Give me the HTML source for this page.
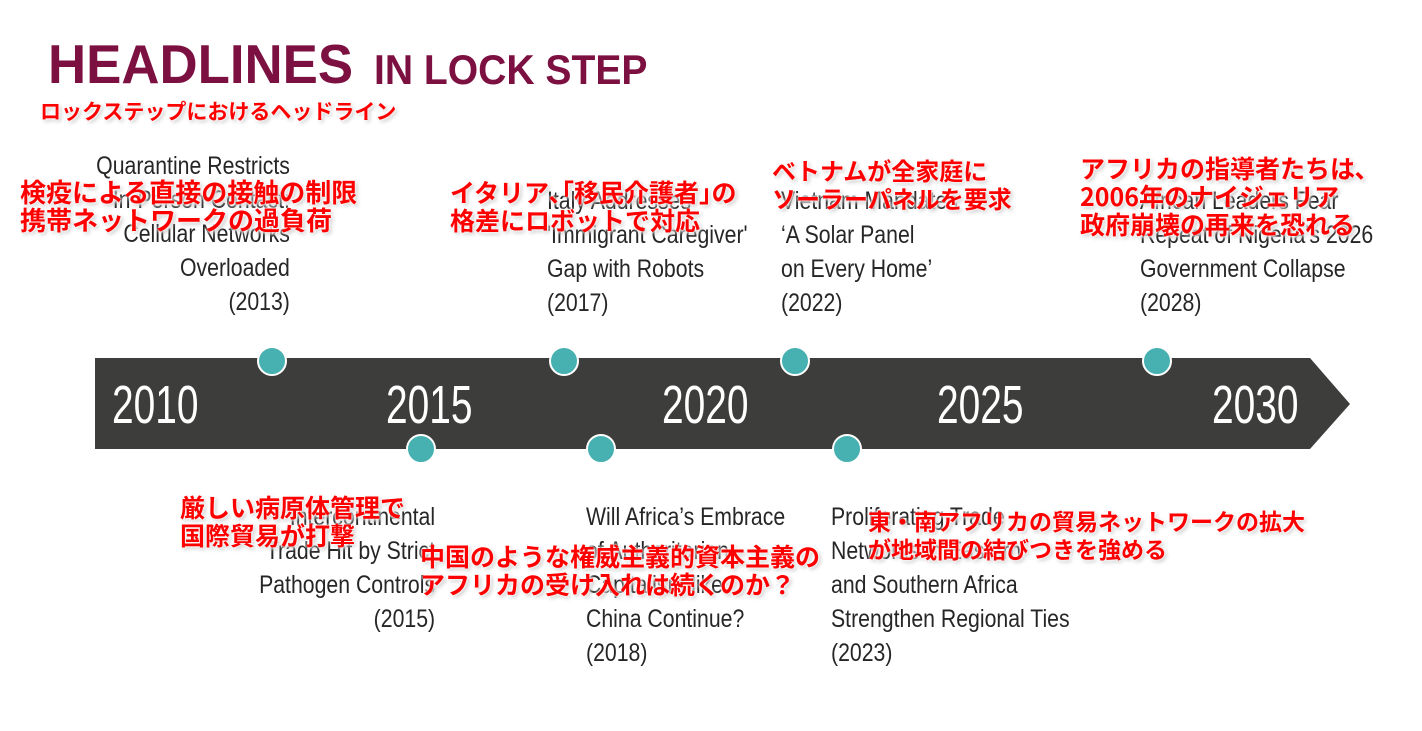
<!DOCTYPE html>
<html><head><meta charset="utf-8"><style>
body{margin:0;width:1422px;height:731px;background:#fff;position:relative;overflow:hidden;font-family:"Liberation Sans","Noto Sans CJK JP",sans-serif}
.a{position:absolute;white-space:nowrap}
.t{font-size:25px;color:#262626;line-height:34px;transform:scaleX(0.85)}
.l{transform-origin:0 0}.r{transform-origin:100% 0;text-align:right}
.yr{position:absolute;top:375px;color:#fff;font-size:54px;transform:scaleX(0.72);transform-origin:0 0;line-height:60px}
.jp{position:absolute;white-space:nowrap;color:#f00;font-size:26px;font-weight:bold;line-height:28px;font-family:"Noto Sans CJK JP",sans-serif;text-shadow:0 0 3px #fff,0 0 3px #fff,2px 2px 4px #bbb}
.dot{position:absolute;width:26px;height:26px;border-radius:50%;background:#47b0b0;border:2px solid #fff;margin:-15px 0 0 -15px}
</style></head><body>
<div class="a" style="left:48px;top:34px;color:#7c1040;font-weight:bold;transform:scaleX(0.96);transform-origin:0 0;line-height:60px;font-size:55px">HEADLINES</div>
<div class="a" style="left:374px;top:40px;color:#7c1040;font-weight:bold;transform:scaleX(0.93);transform-origin:0 0;line-height:60px;font-size:42px">IN LOCK STEP</div>
<div class="jp" style="left:40px;top:97px;font-size:21px">ロックステップにおけるヘッドライン</div>

<svg class="a" style="left:0;top:0" width="1422" height="731"><polygon points="95,358 1310,358 1350,404 1310,449 95,449" fill="#3d3d3c"/></svg>
<div class="yr" style="left:112px">2010</div>
<div class="yr" style="left:386px">2015</div>
<div class="yr" style="left:662px">2020</div>
<div class="yr" style="left:937px">2025</div>
<div class="yr" style="left:1212px">2030</div>

<div class="dot" style="left:272px;top:361px"></div>
<div class="dot" style="left:564px;top:361px"></div>
<div class="dot" style="left:795px;top:361px"></div>
<div class="dot" style="left:1157px;top:361px"></div>
<div class="dot" style="left:421px;top:449px"></div>
<div class="dot" style="left:601px;top:449px"></div>
<div class="dot" style="left:847px;top:449px"></div>

<div class="a t r" style="right:1132px;top:149px">Quarantine Restricts<br>In-Person Contact;<br>Cellular Networks<br>Overloaded<br>(2013)</div>
<div class="a t l" style="left:547px;top:184px">Italy Addresses<br>'Immigrant Caregiver'<br>Gap with Robots<br>(2017)</div>
<div class="a t l" style="left:781px;top:184px">Vietnam Mandates<br>‘A Solar Panel<br>on Every Home’<br>(2022)</div>
<div class="a t l" style="left:1140px;top:184px">African Leaders Fear<br>Repeat of Nigeria's 2026<br>Government Collapse<br>(2028)</div>
<div class="a t r" style="right:987px;top:500px">Intercontinental<br>Trade Hit by Strict<br>Pathogen Controls<br>(2015)</div>
<div class="a t l" style="left:586px;top:500px">Will Africa’s Embrace<br>of Authoritarian<br>Capitalism like<br>China Continue?<br>(2018)</div>
<div class="a t l" style="left:831px;top:500px">Proliferating Trade<br>Networks in Eastern<br>and Southern Africa<br>Strengthen Regional Ties<br>(2023)</div>

<div class="jp" style="left:20px;top:178px">検疫による直接の接触の制限<br>携帯ネットワークの過負荷</div>
<div class="jp" style="left:450px;top:178px;font-size:25px">イタリア､｢移民介護者｣の<br>格差にロボットで対応</div>
<div class="jp" style="left:772px;top:156px;font-size:24px">ベトナムが全家庭に<br>ソーラーパネルを要求</div>
<div class="jp" style="left:1080px;top:154px;font-size:25px">アフリカの指導者たちは､<br>2006年のナイジェリア<br>政府崩壊の再来を恐れる</div>
<div class="jp" style="left:180px;top:493px;font-size:25px">厳しい病原体管理で<br>国際貿易が打撃</div>
<div class="jp" style="left:420px;top:542px;font-size:25px">中国のような権威主義的資本主義の<br>アフリカの受け入れは続くのか？</div>
<div class="jp" style="left:868px;top:506px;font-size:23px">東・南アフリカの貿易ネットワークの拡大<br>が地域間の結びつきを強める</div>
</body></html>
